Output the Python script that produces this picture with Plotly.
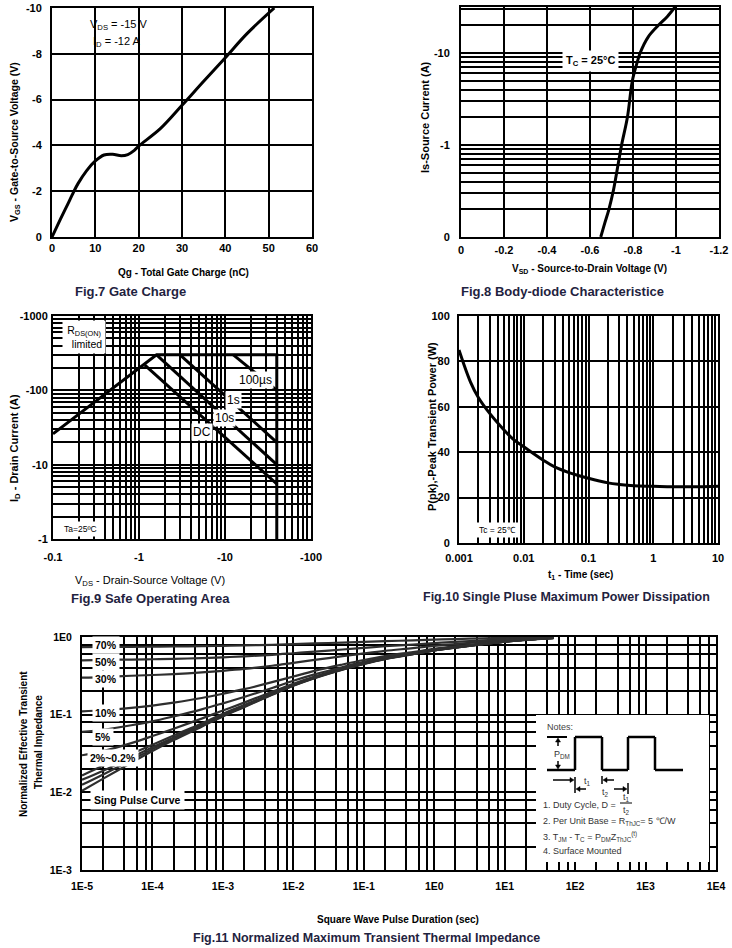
import plotly.graph_objects as go

OX, OY = 0, 0
FW, FH = 732, 948
FONT = "Liberation Sans, Arial, sans-serif"
CAP = "#1f2340"

# ---------------- data ----------------
# Fig.7 Gate charge
qg_nc = [0, 2, 3.5, 5, 6, 8, 10, 12, 14, 16, 17.5, 19, 20, 25, 30, 35, 40, 45, 51.3]
vgs_v = [0, -0.8, -1.38, -1.97, -2.33, -2.9, -3.32, -3.58, -3.61, -3.55, -3.6, -3.78, -3.97,
         -4.73, -5.75, -6.8, -7.83, -8.88, -10.0]

# Fig.8 Body-diode (|Is| plotted, labelled negative)
vsd_v = [-0.65, -0.668, -0.688, -0.71, -0.724, -0.747, -0.774, -0.797, -0.82, -0.833,
         -0.871, -0.918, -0.96, -0.995]
is_a = [0.1, 0.14, 0.2, 0.33, 0.5, 1, 2, 5, 8, 10, 15, 20, 25, 31.6]

# Fig.9 Safe operating area (|V|, |I|)
soa_lim_v = [0.1, 1.6, 40, 40]
soa_lim_i = [26, 300, 300, 1]
soa_100us_v = [12.5, 40]
soa_100us_i = [300, 100]
soa_1s_v = [3.0, 40]
soa_1s_i = [300, 20]
soa_10s_v = [1.6, 40]
soa_10s_i = [300, 10]
soa_dc_v = [1.17, 40]
soa_dc_i = [218, 5.5]

# Fig.10 Single pulse power
t1_s = [0.001, 0.0015, 0.002, 0.003, 0.005, 0.007, 0.01, 0.02, 0.03, 0.05, 0.1, 0.2, 0.3,
        0.5, 1, 2, 5, 10]
ppk_w = [85, 71, 64, 57, 49.7, 45.5, 42.4, 36.5, 33.5, 31, 28.5, 26.5, 25.8, 25.2, 25,
         24.8, 24.8, 25]

# Fig.11 Transient thermal impedance
tp_s = [1e-5, 2e-5, 5e-5, 1e-4, 2e-4, 5e-4, 1e-3, 2e-3, 5e-3, 1e-2, 2e-2, 5e-2, 1e-1,
        2e-1, 5e-1, 1, 2, 5, 10, 20, 50]
z_single = [0.0105, 0.015, 0.024, 0.034, 0.047, 0.07, 0.095, 0.125, 0.18, 0.235, 0.295,
            0.38, 0.45, 0.52, 0.60, 0.67, 0.73, 0.81, 0.87, 0.92, 0.97]
z_d02 = [0.0125, 0.017, 0.026, 0.036, 0.049, 0.072, 0.097, 0.127, 0.182, 0.237, 0.297,
         0.382, 0.451, 0.521, 0.601, 0.671, 0.731, 0.811, 0.871, 0.921, 0.971]
z_d05 = [0.0145, 0.019, 0.028, 0.038, 0.051, 0.074, 0.099, 0.129, 0.184, 0.239, 0.299,
         0.385, 0.455, 0.525, 0.605, 0.672, 0.732, 0.812, 0.872, 0.922, 0.972]
z_d1 = [0.0165, 0.022, 0.031, 0.041, 0.054, 0.077, 0.103, 0.133, 0.188, 0.243, 0.303,
        0.388, 0.457, 0.527, 0.607, 0.675, 0.735, 0.813, 0.873, 0.923, 0.973]
z_d2 = [0.03, 0.034, 0.043, 0.053, 0.066, 0.089, 0.113, 0.143, 0.197, 0.25, 0.31, 0.393,
        0.461, 0.53, 0.61, 0.677, 0.737, 0.815, 0.874, 0.924, 0.974]
z_d5 = [0.06, 0.064, 0.073, 0.082, 0.095, 0.117, 0.14, 0.169, 0.221, 0.273, 0.33, 0.41,
        0.478, 0.545, 0.62, 0.687, 0.745, 0.82, 0.877, 0.925, 0.975]
z_d10 = [0.11, 0.114, 0.122, 0.131, 0.143, 0.164, 0.186, 0.213, 0.262, 0.31, 0.366, 0.442,
         0.505, 0.568, 0.64, 0.703, 0.757, 0.829, 0.883, 0.928, 0.975]
z_d30 = [0.3, 0.305, 0.317, 0.324, 0.333, 0.35, 0.367, 0.388, 0.426, 0.465, 0.507, 0.566,
         0.615, 0.664, 0.72, 0.77, 0.811, 0.867, 0.909, 0.944, 0.98]
z_d50 = [0.5, 0.508, 0.512, 0.517, 0.524, 0.535, 0.548, 0.563, 0.59, 0.618, 0.648, 0.69,
         0.725, 0.76, 0.8, 0.835, 0.865, 0.905, 0.935, 0.96, 0.985]
z_d70 = [0.74, 0.744, 0.747, 0.75, 0.754, 0.761, 0.769, 0.778, 0.794, 0.81, 0.826, 0.848,
         0.866, 0.884, 0.905, 0.924, 0.94, 0.962, 0.975, 0.985, 0.99]

# tick labels
f7_x_ticks = [0, 10, 20, 30, 40, 50, 60]
f7_y_ticks = [0, -2, -4, -6, -8, -10]
f7_y_text = ["0", "-2", "-4", "-6", "-8", "-10"]
f8_x_ticks = [0, -0.2, -0.4, -0.6, -0.8, -1.0, -1.2]
f8_x_text = ["0", "-0.2", "-0.4", "-0.6", "-0.8", "-1", "-1.2"]
f8_y_ticks = [0.1, 1, 10]
f8_y_text = ["0", "-1", "-10"]
f9_x_ticks = [0.1, 1, 10, 100]
f9_x_text = ["-0.1", "-1", "-10", "-100"]
f9_y_ticks = [1, 10, 100, 1000]
f9_y_text = ["-1", "-10", "-100", "-1000"]
f10_x_ticks = [0.001, 0.01, 0.1, 1, 10]
f10_x_text = ["0.001", "0.01", "0.1", "1", "10"]
f10_y_ticks = [0, 20, 40, 60, 80, 100]
f11_x_ticks = [1e-5, 1e-4, 1e-3, 1e-2, 1e-1, 1, 10, 100, 1000, 10000]
f11_x_text = ["1E-5", "1E-4", "1E-3", "1E-2", "1E-1", "1E0", "1E1", "1E2", "1E3", "1E4"]
f11_y_ticks = [1e-3, 1e-2, 1e-1, 1]
f11_y_text = ["1E-3", "1E-2", "1E-1", "1E0"]


def loggrid(e0, e1, mults):
    return [m * 10.0 ** e for e in range(e0, e1 + 1) for m in mults]


def px(x):
    return (x - OX) / FW


def py(y):
    return 1 - (y - OY) / FH


def xd(a, b):
    return [px(a), px(b)]


def yd(top, bot):
    return [py(bot), py(top)]


def minor(vals):
    return dict(tickmode="array", tickvals=vals, showgrid=True, gridcolor="black",
                gridwidth=2, ticks="")


def ax(standoff=4, **kw):
    base = dict(showline=True, mirror=True, linecolor="black", linewidth=2,
                showgrid=True, gridcolor="black", gridwidth=2, zeroline=False,
                ticks="", fixedrange=True, ticklabelstandoff=standoff, automargin=False,
                tickfont=dict(family=FONT, size=11, color="black", weight="bold"))
    base.update(kw)
    return base


fig = go.Figure()

LW = 3
fig.add_trace(go.Scatter(x=qg_nc, y=vgs_v, mode="lines", xaxis="x", yaxis="y",
                         line=dict(color="black", width=LW, shape="spline")))
fig.add_trace(go.Scatter(x=vsd_v, y=is_a, mode="lines", xaxis="x2", yaxis="y2",
                         line=dict(color="black", width=LW, shape="spline")))
for vv, ii in [(soa_lim_v, soa_lim_i), (soa_100us_v, soa_100us_i), (soa_1s_v, soa_1s_i),
               (soa_10s_v, soa_10s_i), (soa_dc_v, soa_dc_i)]:
    fig.add_trace(go.Scatter(x=vv, y=ii, mode="lines", xaxis="x3", yaxis="y3",
                             line=dict(color="black", width=LW)))
fig.add_trace(go.Scatter(x=t1_s, y=ppk_w, mode="lines", xaxis="x4", yaxis="y4",
                         line=dict(color="black", width=LW, shape="spline")))
for zz in [z_single, z_d02, z_d05, z_d1, z_d2, z_d5, z_d10, z_d30, z_d50, z_d70]:
    fig.add_trace(go.Scatter(x=tp_s, y=zz, mode="lines", xaxis="x5", yaxis="y5",
                             line=dict(color="#2e2e2e", width=2.2, shape="spline")))

TF11 = dict(family=FONT, size=10.5, color="black", weight="bold")
layout = dict(
    template="none",
    width=FW, height=FH, margin=dict(l=0, r=0, t=0, b=0, pad=0),
    paper_bgcolor="white", plot_bgcolor="white", showlegend=False,
    xaxis=ax(0, domain=xd(52, 312), range=[0, 60], tickvals=f7_x_ticks, anchor="y"),
    yaxis=ax(6, domain=yd(8, 237), range=[0, -10], tickvals=f7_y_ticks,
             ticktext=f7_y_text, anchor="x"),
    xaxis2=ax(2, domain=xd(461, 719), range=[0, -1.2], tickvals=f8_x_ticks,
              ticktext=f8_x_text, anchor="y2"),
    yaxis2=ax(7, domain=yd(7, 237), type="log", range=[-1, 1.5], tickvals=f8_y_ticks,
              ticktext=f8_y_text, anchor="x2",
              minor=minor(loggrid(-1, 0, range(2, 10)) + [20, 30])),
    xaxis3=ax(7, domain=xd(53, 311), type="log", range=[-1, 2], tickvals=f9_x_ticks,
              ticktext=f9_x_text, anchor="y3",
              minor=minor(loggrid(-1, 1, range(2, 10)))),
    yaxis3=ax(1, domain=yd(316, 539), type="log", range=[0, 3], tickvals=f9_y_ticks,
              ticktext=f9_y_text, anchor="x3",
              minor=minor(loggrid(0, 2, range(2, 10)))),
    xaxis4=ax(4, domain=xd(459, 718), type="log", range=[-3, 1], tickvals=f10_x_ticks,
              ticktext=f10_x_text, anchor="y4",
              minor=minor(loggrid(-3, 0, range(2, 10)))),
    yaxis4=ax(5, domain=yd(316, 543), range=[0, 100], tickvals=f10_y_ticks, anchor="x4"),
    xaxis5=ax(5, domain=xd(82, 716), type="log", range=[-5, 4], tickvals=f11_x_ticks,
              ticktext=f11_x_text, anchor="y5", tickfont=TF11,
              minor=minor(loggrid(-5, 3, (2, 4, 6, 8)))),
    yaxis5=ax(6, domain=yd(637, 870), type="log", range=[-3, 0], tickvals=f11_y_ticks,
              ticktext=f11_y_text, anchor="x5", tickfont=TF11,
              minor=minor(loggrid(-3, -1, (2, 4, 6, 8)))),
)
fig.update_layout(**layout)


def ann(text, x, y, size=11, bold=False, color="black", xanchor="center",
        yanchor="middle", angle=0, bg=None, pad=1, align="center"):
    d = dict(text=text, x=px(x), y=py(y), xref="paper", yref="paper",
             showarrow=False, xanchor=xanchor, yanchor=yanchor, textangle=angle,
             align=align,
             font=dict(family=FONT, size=size, color=color,
                       weight="bold" if bold else "normal"))
    if bg:
        d.update(bgcolor=bg, borderpad=pad)
    return d


anns = [
    # Fig 7
    ann("V<sub>DS</sub> = -15 V", 88, 25, size=11, xanchor="left"),
    ann("I<sub>D</sub> = -12 A", 91, 42, size=11, xanchor="left"),
    ann("V<sub>GS</sub> - Gate-to-Source Voltage (V)", 15, 142, size=10.5, bold=True, angle=-90),
    ann("Qg - Total Gate Charge (nC)", 183, 272, size=10, bold=True),
    ann("Fig.7 Gate Charge", 130, 291, size=13, bold=True, color=CAP),
    # Fig 8
    ann("T<sub>C</sub> = 25°C", 590, 61, size=11, bold=True, bg="white", pad=3),
    ann("Is-Source Current (A)", 425, 117, size=11, bold=True, angle=-90),
    ann("V<sub>SD</sub> - Source-to-Drain Voltage (V)", 589, 269, size=10, bold=True),
    ann("Fig.8 Body-diode Characteristice", 562, 291, size=13, bold=True, color=CAP),
    # Fig 9
    ann("R<sub>DS(ON)</sub><br>  limited", 84, 337, size=10.5, bg="white", pad=3),
    ann("100µs", 255, 380, size=12, bg="white", pad=1),
    ann("1s", 233, 400, size=12, bg="white", pad=1),
    ann("10s", 224, 418, size=12, bg="white", pad=1),
    ann("DC", 202, 432, size=12, bg="white", pad=1),
    ann("Ta=25ºC", 80, 529, size=8.5, bg="white", pad=2),
    ann("I<sub>D</sub> - Drain Current (A)", 15, 448, size=11, bold=True, angle=-90),
    ann("V<sub>DS</sub> - Drain-Source Voltage (V)", 150, 581, size=11),
    ann("Fig.9 Safe Operating Area", 150, 598, size=13, bold=True, color=CAP),
    # Fig 10
    ann("Tc = 25℃", 497, 530, size=8.5, bg="white", pad=2),
    ann("P(pk),-Peak Transient Power (W)", 432, 427, size=11, bold=True, angle=-90),
    ann("t<sub>1</sub> - Time (sec)", 580, 575, size=10, bold=True),
    ann("Fig.10 Single Pluse Maximum Power Dissipation", 566, 597, size=12.5, bold=True,
        color=CAP),
    # Fig 11
    ann("70%", 106, 645, size=10.5, bold=True, bg="white", pad=2),
    ann("50%", 106, 662, size=10.5, bold=True, bg="white", pad=2),
    ann("30%", 106, 679, size=10.5, bold=True, bg="white", pad=2),
    ann("10%", 106, 713, size=10.5, bold=True, bg="white", pad=2),
    ann("5%", 103, 737, size=10.5, bold=True, bg="white", pad=2),
    ann("2%~0.2%", 113, 758, size=10.5, bold=True, bg="white", pad=2),
    ann("Sing Pulse Curve", 137, 800, size=10.5, bold=True, bg="white", pad=3),
    ann("Normalized Effective Transient", 23, 744, size=10, bold=True, angle=-90),
    ann("Thermal Impedance", 38, 742, size=10, bold=True, angle=-90),
    ann("Square Wave Pulse Duration (sec)", 398, 919, size=10, bold=True),
    ann("Fig.11 Normalized Maximum Transient Thermal Impedance", 366, 938, size=12.5,
        bold=True, color=CAP),
    # Notes box
    ann("Notes:", 545, 727, size=9, color="#444", xanchor="left"),
    ann("P<sub>DM</sub>", 562, 754, size=9, color="#333"),
    ann("t<sub>1</sub>", 587, 781, size=9, color="#333"),
    ann("t<sub>2</sub>", 605, 792, size=9, color="#333"),
    ann("1. Duty Cycle, D =", 541, 805, size=9, color="#333", xanchor="left"),
    ann("t<sub>1</sub>", 626, 797, size=9, color="#333"),
    ann("t<sub>2</sub>", 626, 810, size=9, color="#333"),
    ann("2. Per Unit Base = R<sub>ThJC</sub>= 5 ℃/W", 541, 821, size=9, color="#333",
        xanchor="left"),
    ann("3. T<sub>JM</sub> - T<sub>C</sub> = P<sub>DM</sub>Z<sub>ThJC</sub><sup>(t)</sup>", 541,
        836, size=9, color="#333", xanchor="left"),
    ann("4. Surface Mounted", 541, 851, size=9, color="#333", xanchor="left"),
]
fig.update_layout(annotations=anns)


def pline(x0, y0, x1, y1, w=1.5):
    return dict(type="line", xref="paper", yref="paper", x0=px(x0), y0=py(y0),
                x1=px(x1), y1=py(y1), line=dict(color="black", width=w), layer="above")


def head(xh, yh, dxn, dyn, L=4, hw=2.5):
    bx, by = xh - dxn * L, yh - dyn * L
    ox, oy = -dyn * hw, dxn * hw
    path = "M %.5f %.5f L %.5f %.5f L %.5f %.5f Z" % (
        px(xh), py(yh), px(bx + ox), py(by + oy), px(bx - ox), py(by - oy))
    return dict(type="path", xref="paper", yref="paper", path=path, fillcolor="black",
                line=dict(color="black", width=0.5), layer="above")


shapes = [
    dict(type="rect", xref="paper", yref="paper", x0=px(536), x1=px(709),
         y0=py(862), y1=py(715), fillcolor="white", line=dict(width=0),
         layer="above"),
]
wave_x = [547, 575, 575, 602, 602, 628, 628, 655, 655, 683]
wave_y = [770, 770, 737, 737, 770, 770, 737, 737, 770, 770]
for i in range(len(wave_x) - 1):
    shapes.append(pline(wave_x[i], wave_y[i], wave_x[i + 1], wave_y[i + 1], w=2.5))
shapes += [
    pline(547, 737, 567, 737, w=2),
    pline(558, 742, 558, 746, w=1.5), head(558, 738, 0, -1),
    pline(558, 761, 558, 765, w=1.5), head(558, 769, 0, 1),
    pline(553, 780, 570, 780, w=1.5), head(574, 780, 1, 0),
    pline(606, 780, 614, 780, w=1.5), head(603, 780, -1, 0),
    pline(580, 789, 586, 789, w=1.5), head(576, 789, -1, 0),
    pline(614, 789, 623, 789, w=1.5), head(627, 789, 1, 0),
    pline(575, 777, 575, 793, w=1.5),
    pline(602, 776, 602, 784, w=1.5),
    pline(628, 783, 628, 794, w=1.5),
    pline(620, 803, 632, 803, w=1),
]
fig.update_layout(shapes=shapes)

# remove the browser's default 8px page margin so the figure fills the window
fig.write_html("out.html", config={"displayModeBar": False},
               post_script="document.body.style.margin='0';document.body.style.overflow='hidden';")
